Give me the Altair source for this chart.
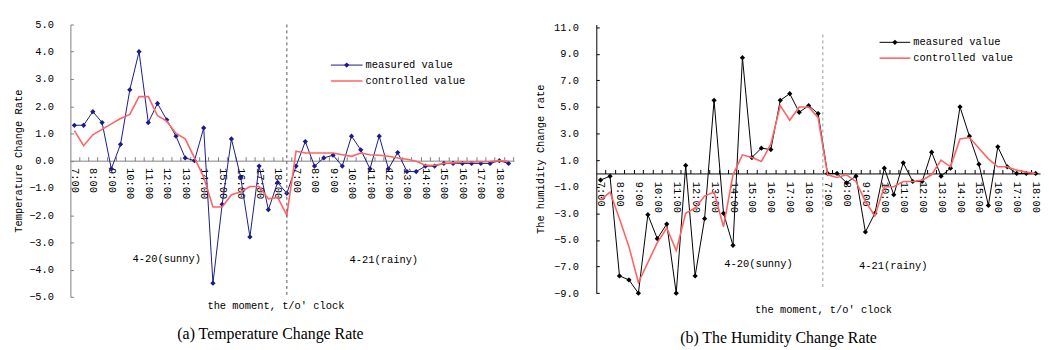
import json
import altair as alt
import pandas as pd

# ---------------- data ----------------
hours = ["7:00", "8:00", "9:00", "10:00", "11:00", "12:00",
         "13:00", "14:00", "15:00", "16:00", "17:00", "18:00"]
tick_labels = hours + hours          # one label per hour, day 4-20 then day 4-21

series_names = ["measured value", "controlled value"]
day_names = ["4-20(sunny)", "4-21(rainy)"]

# (a) temperature change rate, half-hour samples 7:00 .. 18:30, two days
temp_measured = [1.3, 1.3, 1.8, 1.4, -0.3, 0.6, 2.6, 4.0, 1.4, 2.1, 1.5, 0.9,
                 0.1, 0.0, 1.2, -4.5, -1.6, 0.8, -0.6, -2.8, -0.2, -1.8, -0.8, -1.2,
                 -0.2, 0.7, -0.2, 0.1, 0.2, -0.2, 0.9, 0.4, -0.3, 0.9, -0.3, 0.3,
                 -0.4, -0.4, -0.2, -0.2, -0.1, -0.1, -0.1, -0.1, -0.1, -0.1, 0.0, -0.1]
temp_controlled = [1.1, 0.55, 0.95, 1.15, 1.35, 1.55, 1.7, 2.35, 2.35, 1.65, 1.45, 1.0,
                   0.8, 0.1, -0.6, -1.7, -1.7, -1.25, -1.15, -0.95, -0.95, -1.4, -1.35, -2.0,
                   0.35, 0.28, 0.28, 0.28, 0.28, 0.22, 0.16, 0.28, 0.22, 0.2, 0.16, 0.1,
                   0.05, -0.02, -0.17, -0.17, -0.1, -0.08, -0.06, -0.05, -0.04, -0.03, 0.0, -0.02]
temp_ticks = [-5.0, -4.0, -3.0, -2.0, -1.0, 0.0, 1.0, 2.0, 3.0, 4.0, 5.0]

# (b) humidity change rate, half-hour samples 7:00 .. 18:00 (second day)
hum_measured = [-0.5, -0.2, -7.7, -8.0, -9.0, -3.1, -4.9, -3.8, -9.0, 0.6, -7.7, -3.4,
                5.5, -3.0, -5.4, 8.7, 1.2, 1.9, 1.8, 5.5, 6.0, 4.6, 5.1, 4.5,
                0.0, 0.0, -0.7, -0.2, -4.4, -3.0, 0.4, -1.6, 0.8, -0.6, -0.6, 1.6,
                -0.2, 0.4, 5.0, 2.8, 0.7, -2.4, 2.0, 0.5, 0.0, 0.0, 0.0]
hum_controlled = [-2.0, -1.4, -3.4, -5.5, -8.2, -6.7, -5.2, -4.1, -5.8, -3.0, -2.6, -1.7,
                  -1.4, -4.0, -0.1, 1.4, 1.2, 0.9, 2.2, 5.1, 4.0, 5.0, 5.0, 4.2,
                  -0.1, -0.3, -0.1, -0.6, -2.1, -3.2, -1.0, -1.0, -0.6, -0.6, -0.5, -0.1,
                  1.0, 0.5, 2.6, 2.7, 1.9, 1.1, 0.5, 0.5, 0.25, 0.1, 0.0]
hum_ticks = [-9.0, -7.0, -5.0, -3.0, -1.0, 1.0, 3.0, 5.0, 7.0, 9.0, 11.0]

# ---------------- style ----------------
FONT = "Liberation Mono"
FS = 10.5
RED = "#ff6464"
label_expr = json.dumps(tick_labels) + "[round(datum.value / 2)]"


def panel(measured, controlled, cfg):
    n = len(measured)
    df = pd.DataFrame({"i": list(range(n)), "measured": measured, "controlled": controlled})
    xs = alt.Scale(domain=cfg["xdomain"], nice=False, zero=False)
    ys = alt.Scale(domain=cfg["ydomain"], nice=False, zero=False)
    axc = cfg["axis_color"]

    tick_axis = alt.Axis(orient="top", offset=cfg["top_off"],
                         values=[k + 0.5 for k in range(-1, n)],
                         labels=False, ticks=True, tickSize=4, tickColor=axc,
                         domainColor=axc, grid=False, title=None)
    label_axis = alt.Axis(orient="bottom", offset=cfg["bot_off"],
                          values=list(range(0, n, 2)), labelExpr=label_expr,
                          labelAngle=90, labelAlign="left", labelBaseline="middle",
                          labelPadding=cfg["xlabpad"], ticks=False, tickSize=0,
                          domain=False, grid=False, labelFlush=False, labelOverlap=False,
                          labelFont=FONT, labelFontSize=FS, labelColor="black",
                          title="the moment, t/o' clock", titleFont=FONT, titleFontSize=FS,
                          titleFontWeight="normal", titleColor="black",
                          titleX=cfg["titleX"], titleY=cfg["titleY"],
                          titleAlign="center", titleBaseline="middle")
    ylab_axis = alt.Axis(orient="left", values=cfg["yticks"], format=".1f",
                         labelFont=FONT, labelFontSize=FS, labelColor="black",
                         labelAlign="right", labelBaseline="middle",
                         labelPadding=cfg["ylabpad"], ticks=False, tickSize=0,
                         domainColor=axc, grid=False, title=cfg["ytitle"], titleFont=FONT,
                         titleFontSize=FS, titleFontWeight="normal", titleColor="black",
                         titlePadding=cfg["ytitlepad"])
    ytick_axis = alt.Axis(orient="right", offset=-cfg["width"], values=cfg["yticks"],
                          labels=False, ticks=True, tickSize=3, tickColor=axc,
                          domain=False, grid=False, title=None)

    base = alt.Chart(df)
    line_m = base.mark_line(color=cfg["mcolor"], strokeWidth=1).encode(
        x=alt.X("i:Q", scale=xs, axis=tick_axis),
        y=alt.Y("measured:Q", scale=ys, axis=ylab_axis))
    line_c = base.mark_line(color=RED, strokeWidth=1.6).encode(
        x=alt.X("i:Q", scale=xs, axis=label_axis),
        y=alt.Y("controlled:Q", scale=ys, axis=ytick_axis))
    pts_m = base.mark_point(shape="diamond", filled=True, size=28, opacity=1,
                            color=cfg["mcolor"]).encode(
        x=alt.X("i:Q", scale=xs, axis=None),
        y=alt.Y("measured:Q", scale=ys, axis=None))

    div_df = pd.DataFrame({"i": [cfg["divider"]], "top": [cfg["div_span"][0]],
                           "bottom": [cfg["div_span"][1]]})
    divider = alt.Chart(div_df).mark_rule(strokeDash=[3, 3], color=cfg["div_color"],
                                          strokeWidth=1).encode(
        x=alt.X("i:Q", scale=xs, axis=None),
        y=alt.Y("top:Q", scale=ys, axis=None), y2="bottom:Q")

    ann_df = pd.DataFrame({"i": cfg["ann_i"], "v": cfg["ann_v"], "t": day_names})
    ann = alt.Chart(ann_df).mark_text(font=FONT, fontSize=FS, color="black").encode(
        x=alt.X("i:Q", scale=xs, axis=None),
        y=alt.Y("v:Q", scale=ys, axis=None), text="t:N")

    lx0, lx1, ly0, ly1 = cfg["legend"]
    one = pd.DataFrame({"k": [0]})
    leg = [
        alt.Chart(one).mark_rule(color=cfg["mcolor"], strokeWidth=1).encode(
            x=alt.value(lx0), x2=alt.value(lx1), y=alt.value(ly0)),
        alt.Chart(one).mark_point(shape="diamond", filled=True, size=28, opacity=1,
                                  color=cfg["mcolor"]).encode(
            x=alt.value((lx0 + lx1) / 2), y=alt.value(ly0)),
        alt.Chart(one).mark_text(align="left", baseline="middle", font=FONT, fontSize=FS,
                                 color="black").encode(
            x=alt.value(lx1 + 3), y=alt.value(ly0), text=alt.value(series_names[0])),
        alt.Chart(one).mark_rule(color=RED, strokeWidth=1.6).encode(
            x=alt.value(lx0), x2=alt.value(lx1), y=alt.value(ly1)),
        alt.Chart(one).mark_text(align="left", baseline="middle", font=FONT, fontSize=FS,
                                 color="black").encode(
            x=alt.value(lx1 + 3), y=alt.value(ly1), text=alt.value(series_names[1])),
    ]

    return alt.layer(line_m, pts_m, line_c, divider, ann, *leg).resolve_axis(
        x="independent", y="independent").properties(
        width=cfg["width"], height=cfg["height"],
        title=alt.TitleParams(cfg["caption"], orient="bottom", frame="group",
                              anchor="middle", dx=cfg["cap_dx"], offset=cfg["cap_off"],
                              font="Liberation Serif", fontSize=16,
                              fontWeight="normal", color="black"))


left = panel(temp_measured, temp_controlled, dict(
    width=448, height=275, xdomain=[-0.43, 47.6], ydomain=[-5.0, 5.0],
    yticks=temp_ticks, axis_color="#808080", mcolor="#1a1a8c",
    top_off=-137.5, bot_off=-137.5, xlabpad=7, titleX=207, titleY=146,
    ylabpad=17, ytitlepad=5,
    ytitle="Temperature Change Rate",
    divider=23, div_span=[5.0, -5.0], div_color="#555555",
    ann_i=[10.0, 33.5], ann_v=[-3.6, -3.65],
    legend=[263, 295, 41, 57],
    caption="(a) Temperature Change Rate", cap_dx=-22, cap_off=16))

right = panel(hum_measured, hum_controlled, dict(
    width=448, height=271.3, xdomain=[-0.45, 46.46], ydomain=[-9.0, 11.2],
    yticks=hum_ticks, axis_color="#000000", mcolor="#000000",
    top_off=-150.4, bot_off=-120.9, xlabpad=8, titleX=229, titleY=137,
    ylabpad=18, ytitlepad=8,
    ytitle="The humidity Change rate",
    divider=23.5, div_span=[10.45, -8.68], div_color="#999999",
    ann_i=[16.7, 30.95], ann_v=[-6.82, -6.97],
    legend=[286, 317, 18, 34],
    caption="(b) The Humidity Change Rate", cap_dx=-40, cap_off=16))

chart = alt.hconcat(left, right, spacing=21).properties(
    padding={"left": 5, "top": 10, "right": 0, "bottom": 0},
    background="white").configure_view(stroke=None)

chart.save("out.html", embed_options={"renderer": "svg", "actions": False})
